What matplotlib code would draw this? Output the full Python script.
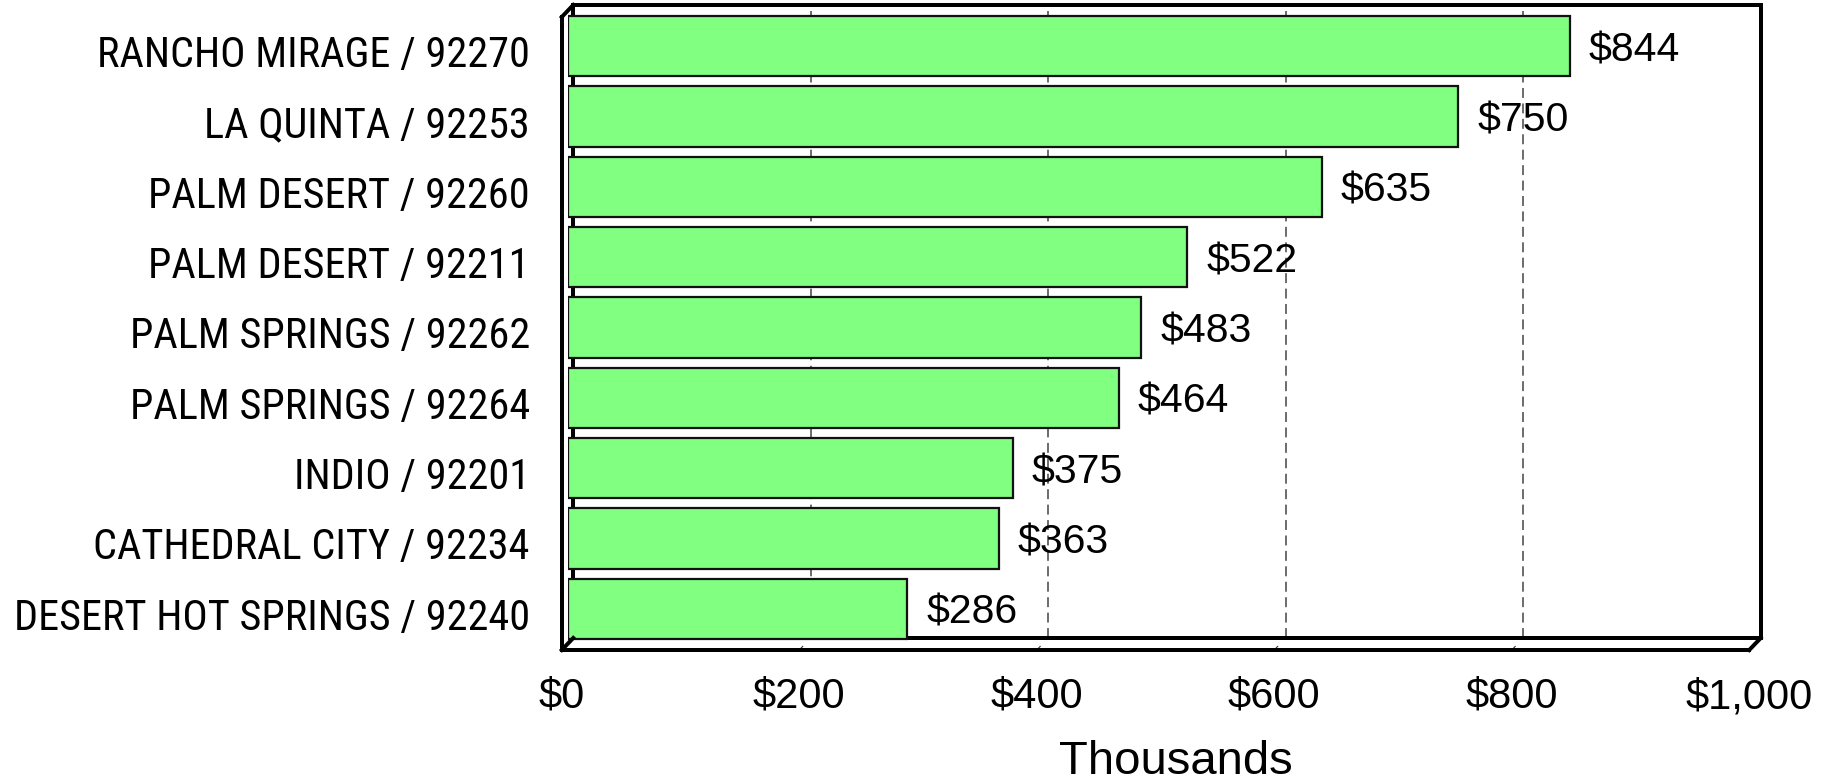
import os
import matplotlib
matplotlib.use("Agg")
import matplotlib.pyplot as plt
from matplotlib import transforms, font_manager

# datos del grafico
categorias = [
    "RANCHO MIRAGE / 92270",
    "LA QUINTA / 92253",
    "PALM DESERT / 92260",
    "PALM DESERT / 92211",
    "PALM SPRINGS / 92262",
    "PALM SPRINGS / 92264",
    "INDIO / 92201",
    "CATHEDRAL CITY / 92234",
    "DESERT HOT SPRINGS / 92240",
]
valores = [844, 750, 635, 522, 483, 464, 375, 363, 286]
ticks_x = [0, 200, 400, 600, 800, 1000]
etiquetas_x = ["$0", "$200", "$400", "$600", "$800", "$1,000"]

# buscar una fuente estrecha para las categorias
def fuente_estrecha():
    candidatas = [("Liberation Sans Narrow", "normal"), ("Arial Narrow", "normal"),
                  ("Roboto Condensed", "normal"), ("Noto Sans", "condensed"),
                  ("Open Sans", "condensed"), ("Roboto", "condensed"),
                  ("DejaVu Sans", "condensed")]
    for fam, st in candidatas:
        fp = font_manager.FontProperties(family=fam, stretch=st)
        try:
            f = font_manager.findfont(fp, fallback_to_default=False)
        except Exception:
            continue
        nombre = os.path.basename(f).lower()
        if "narrow" in nombre or "cond" in nombre:
            return fp
    return font_manager.FontProperties(family="Liberation Sans")

fp_cat = fuente_estrecha()

DPI = 100
W, H = 1830, 783
fig = plt.figure(figsize=(W / DPI, H / DPI), dpi=DPI)

# ejes en el plano medio de la "caja 3D"
left, right, top, bottom = 567.5, 1755, 11, 644
ax = fig.add_axes([left / W, 1 - bottom / H, (right - left) / W, (bottom - top) / H])
ax.set_xlim(0, 1000)
ax.set_ylim(len(categorias) - 0.5, -0.5)
ax.axis("off")

ax_w = right - left
ax_h = bottom - top
DX, DY = 5.75, 6.0  # profundidad en pixeles
dx, dy = DX / ax_w, DY / ax_h

def off(px, py):
    return transforms.ScaledTranslation(px / DPI, py / DPI, fig.dpi_scale_trans)

# lineas de la grilla en la pared del fondo
grid_tr = ax.get_xaxis_transform() + off(DX, DY)
ax.vlines(ticks_x[1:-1], 0, 1, transform=grid_tr, colors="#444444",
          linewidth=1.1, linestyles=(0, (6.5, 3.6)), zorder=1)

# pequenas marcas en el piso
for t in ticks_x[1:-1]:
    xf = t / 1000
    ax.plot([xf - dx, xf - dx + 0.6 * dx], [-dy, -dy + 0.6 * dy], transform=ax.transAxes,
            color="#333333", lw=0.8, clip_on=False, zorder=1)

# marco 3D
lw_frame = 4 * 72 / DPI
def linea(xs, ys, z=3):
    ax.plot(xs, ys, transform=ax.transAxes, color="black", lw=lw_frame,
            clip_on=False, solid_capstyle="projecting", zorder=z)

linea([dx, 1 + dx], [1 + dy, 1 + dy])          # arriba fondo
linea([1 + dx, 1 + dx], [dy, 1 + dy])          # derecha fondo
linea([dx, dx], [dy, 1 + dy], z=1)             # izquierda fondo
linea([dx, 1 + dx], [dy, dy], z=1)             # abajo fondo
linea([-dx, -dx], [-dy, 1 - dy])               # izquierda frente
linea([-dx, 1 - dx], [-dy, -dy])               # abajo frente
linea([-dx, dx], [1 - dy, 1 + dy])             # diagonal arriba izq
linea([-dx, dx], [-dy, dy])                    # diagonal abajo izq
linea([1 - dx, 1 + dx], [-dy, dy])             # diagonal abajo der

# barras
ypos = list(range(len(categorias)))
ax.barh(ypos, valores, height=0.855, color="#80FF80", edgecolor="#111111",
        linewidth=1.6, zorder=2)

# valores
for y, v in zip(ypos, valores):
    ax.text(v, y, f"${v}", transform=ax.transData + off(19, -15), ha="left", va="baseline",
            fontsize=29.5, family=["Liberation Sans", "DejaVu Sans"], zorder=4)

# etiquetas de categorias (plano frontal): tamano ajustado al ancho del original
rend = fig.canvas.get_renderer()
prueba = fig.text(0, 0, categorias[-1], fontproperties=fp_cat, fontsize=30)
ancho = prueba.get_window_extent(rend).width
prueba.remove()
tam_cat = min(33.0, 30 * 516.0 / ancho)
cap = 0.71 * tam_cat * DPI / 72
for y, c in zip(ypos, categorias):
    ax.text(0, y, c, transform=ax.transData + off(-DX - 32, -DY - cap / 2), ha="right",
            va="baseline", fontproperties=fp_cat, fontsize=tam_cat)

# etiquetas eje x (plano frontal)
xl_tr = ax.get_xaxis_transform() + off(-DX, -DY - 58)
for t, lab in zip(ticks_x, etiquetas_x):
    ax.text(t, 0, lab, transform=xl_tr, ha="center", va="baseline",
            fontsize=30, family=["Liberation Sans", "DejaVu Sans"])

fig.text(1176 / W, 1 - 774 / H, "Thousands", ha="center", va="baseline",
         fontsize=34, family=["Liberation Sans", "DejaVu Sans"])

fig.savefig("out.png", dpi=DPI)
